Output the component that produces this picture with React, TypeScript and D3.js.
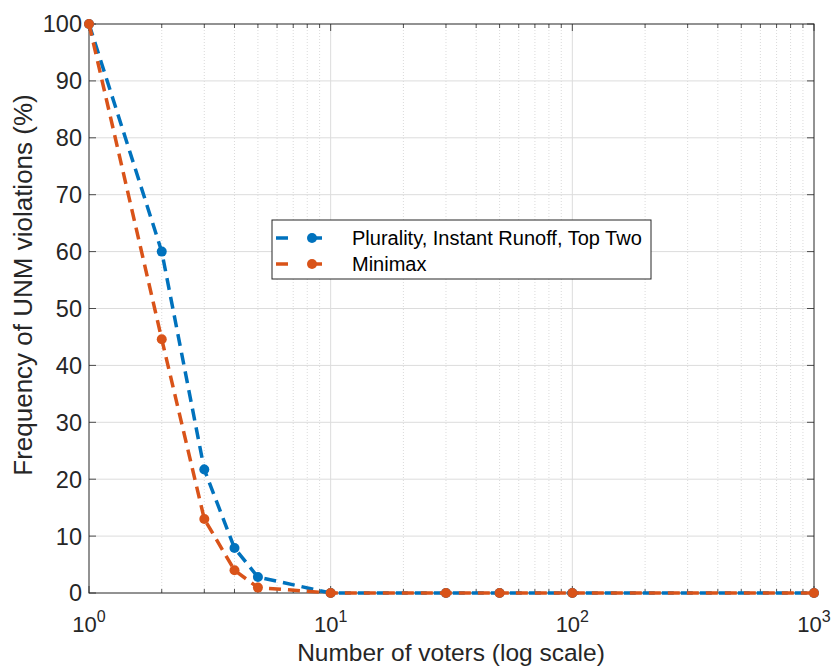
import React from "react";
import * as d3 from "d3";

const voters = [1, 2, 3, 4, 5, 10, 30, 50, 100, 1000];
const pluralityIRV = [100, 60, 21.7, 7.9, 2.8, 0, 0, 0, 0, 0];
const minimax = [100, 44.6, 13, 4, 0.95, 0, 0, 0, 0, 0];
const seriesNames = ["Plurality, Instant Runoff, Top Two", "Minimax"];
const yTicks = [0, 10, 20, 30, 40, 50, 60, 70, 80, 90, 100];
const xDecades = [1, 10, 100, 1000];

const W = 834, H = 669;
const L = 89, R = 814, T = 24, B = 593;
const BLUE = "#0072BD", ORANGE = "#D95319";
const FONT = "'Liberation Sans', Arial, Helvetica, sans-serif";

export default function App() {
  const x = d3.scaleLog().domain([1, 1000]).range([L, R]);
  const y = d3.scaleLinear().domain([0, 100]).range([B, T]);
  const minor: number[] = [];
  for (const d of [1, 10, 100]) for (let k = 2; k <= 9; k++) minor.push(d * k);
  const line = d3.line<number>().x((_, i) => x(voters[i])).y((v) => y(v));
  const series = [
    { name: seriesNames[0], vals: pluralityIRV, color: BLUE },
    { name: seriesNames[1], vals: minimax, color: ORANGE },
  ];
  const lgX = 272, lgY = 220, lgW = 379, lgH = 59;
  return (
    <svg width={W} height={H} style={{ position: "absolute", left: 0, top: 0, background: "#fff" }}>
      <rect x={0} y={0} width={W} height={H} fill="#fff" />
      {/* grid */}
      {minor.map((m) => (
        <line key={"mg" + m} x1={x(m)} x2={x(m)} y1={T} y2={B} stroke="#d0d0d0" strokeWidth={0.8} strokeDasharray="1,2" />
      ))}
      {xDecades.slice(1, -1).map((d) => (
        <line key={"xg" + d} x1={x(d)} x2={x(d)} y1={T} y2={B} stroke="#dcdcdc" strokeWidth={1} />
      ))}
      {yTicks.slice(1, -1).map((t) => (
        <line key={"yg" + t} x1={L} x2={R} y1={y(t)} y2={y(t)} stroke="#dcdcdc" strokeWidth={1} />
      ))}
      {/* ticks */}
      {minor.map((m) => (
        <g key={"mt" + m} stroke="#262626" strokeWidth={0.8}>
          <line x1={x(m)} x2={x(m)} y1={B} y2={B - 4} />
          <line x1={x(m)} x2={x(m)} y1={T} y2={T + 4} />
        </g>
      ))}
      {xDecades.map((d) => (
        <g key={"xt" + d} stroke="#262626" strokeWidth={0.8}>
          <line x1={x(d)} x2={x(d)} y1={B} y2={B - 7} />
          <line x1={x(d)} x2={x(d)} y1={T} y2={T + 7} />
        </g>
      ))}
      {yTicks.map((t) => (
        <g key={"yt" + t} stroke="#262626" strokeWidth={0.8}>
          <line x1={L} x2={L + 7} y1={y(t)} y2={y(t)} />
          <line x1={R} x2={R - 7} y1={y(t)} y2={y(t)} />
        </g>
      ))}
      <rect x={L} y={T} width={R - L} height={B - T} fill="none" stroke="#262626" strokeWidth={1} />
      {/* tick labels */}
      {yTicks.map((t) => (
        <text key={"yl" + t} x={L - 7} y={y(t)} dy="0.36em" textAnchor="end" fontSize={23.5} fontFamily={FONT} fill="#262626">
          {t}
        </text>
      ))}
      {xDecades.map((d, i) => (
        <text key={"xl" + d} x={x(d)} y={632} textAnchor="middle" fontSize={22} fontFamily={FONT} fill="#262626">
          10
          <tspan dy={-10} fontSize={16}>{i}</tspan>
        </text>
      ))}
      <text x={451} y={661} textAnchor="middle" fontSize={24.5} fontFamily={FONT} fill="#262626">
        Number of voters (log scale)
      </text>
      <text transform={`translate(32,285) rotate(-90)`} textAnchor="middle" fontSize={26} fontFamily={FONT} fill="#262626">
        Frequency of UNM violations (%)
      </text>
      {/* series */}
      {series.map((s) => (
        <g key={s.name}>
          <path d={line(s.vals) || ""} fill="none" stroke={s.color} strokeWidth={3.5} strokeDasharray="12,7" />
          {s.vals.map((v, i) => (
            <circle key={i} cx={x(voters[i])} cy={y(v)} r={5} fill={s.color} />
          ))}
        </g>
      ))}
      {/* legend */}
      <rect x={lgX} y={lgY} width={lgW} height={lgH} fill="#fff" stroke="#262626" strokeWidth={1} />
      {series.map((s, i) => {
        const cy = lgY + 18 + i * 26;
        return (
          <g key={"lg" + i}>
            <line x1={lgX + 4} x2={lgX + 72} y1={cy} y2={cy} stroke={s.color} strokeWidth={3.5} strokeDasharray="12,22" />
            <circle cx={lgX + 40} cy={cy} r={5} fill={s.color} />
            <text x={lgX + 80} y={cy} dy="0.36em" fontSize={20} fontFamily={FONT} fill="#000">
              {s.name}
            </text>
          </g>
        );
      })}
    </svg>
  );
}
